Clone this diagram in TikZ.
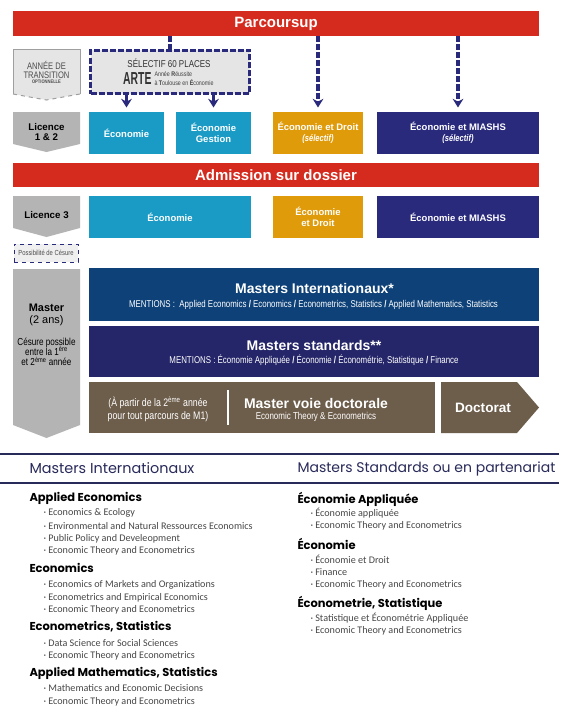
\documentclass[tikz,border=0pt]{standalone}
\usepackage{fontspec}
\usepackage{graphicx}
\setmainfont{Liberation Sans}
\newfontfamily\narrowfont[FakeStretch=0.8]{Liberation Sans}
\newfontfamily\headfont{Poppins}
\newfontfamily\listfont{Carlito}
\usetikzlibrary{arrows.meta}

\definecolor{parcred}{RGB}{213,43,30}
\definecolor{ecocyan}{RGB}{26,155,197}
\definecolor{droitorange}{RGB}{223,155,10}
\definecolor{miashsnavy}{RGB}{42,42,125}
\definecolor{intblue}{RGB}{13,65,120}
\definecolor{stdnavy}{RGB}{37,37,105}
\definecolor{docbrown}{RGB}{109,93,75}
\definecolor{stepgray}{RGB}{180,180,180}
\definecolor{palegray}{RGB}{229,229,229}
\definecolor{headnavy}{RGB}{40,42,90}

\newcommand{\supx}[1]{\smash{\textsuperscript{#1}}}

\tikzset{every picture/.style={line width=0.75pt}}
\tikzset{
  bar/.style={fill=parcred, text=white, inner sep=0pt, minimum width=526*0.75pt, minimum height=25*0.75pt, font=\fontsize{11.25}{13}\selectfont\bfseries},
  colbox/.style={inner sep=0pt, text=white, align=center, font=\fontsize{7.1}{8}\selectfont\bfseries},
  bigbox/.style={inner sep=0pt, minimum width=450*0.75pt},
  steptext/.style={inner sep=0.75pt, align=center},
  artesmall/.style={anchor=west, inner sep=0pt, text=black!75, font=\narrowfont\fontsize{5}{6}\selectfont},
  navydash/.style={draw=miashsnavy, line width=2.6pt, dash pattern=on 4.5pt off 1.5pt},
  navyarrow/.style={miashsnavy, line width=2.6pt, dash pattern=on 4.5pt off 1.5pt, -{Stealth[length=6.5pt,width=8pt]}, shorten >=3pt},
  listhead/.style={anchor=west, inner sep=0pt, text=headnavy, font=\headfont\fontsize{10.8}{12}\selectfont},
  listsub/.style={anchor=west, inner sep=0pt, font=\headfont\bfseries\fontsize{8.6}{10}\selectfont},
  listitem/.style={anchor=west, inner sep=0pt, text=black!72, font=\listfont\fontsize{7.6}{8}\selectfont}
}

\begin{document}
\begin{tikzpicture}[x=0.75pt,y=0.75pt,yscale=-1,xscale=1]
    \useasboundingbox (0,0) rectangle (579,717);
    \fill[white] (0,0) rectangle (579,717);

    % Bars
    \node[bar] (parc) at (276,23.5) {Parcoursup};
    \node[bar, minimum height=24*0.75pt] (adm) at (276,175) {Admission sur dossier};

    %Shape: Annee de transition
    \draw[gray!75, fill=palegray] (13,94) -- (13,50) -- (80,50) -- (80,94) ;
    \draw[gray!75, dashed, fill=palegray] (80,94) -- (46.5,100) -- (13,94) ;
    \node[steptext, text=black!70, font=\narrowfont\fontsize{7.1}{6.8}\selectfont] (trans) at (46.5,69.5) {ANNÉE DE\\TRANSITION};
    \node[steptext, text=black!70, font=\narrowfont\bfseries\fontsize{3.8}{4}\selectfont] (trans2) at (46.5,82) {OPTIONNELLE};

    %Shape: Licence 1 & 2
    \fill[stepgray] (13,112) -- (80,112) -- (80,144) -- (46.5,152) -- (13,144) -- cycle ;
    \node[steptext, font=\fontsize{7.3}{7.5}\selectfont\bfseries] (lic12) at (46.5,132) {Licence\\1 \& 2};

    %Shape: Licence 3
    \fill[stepgray] (13,196) -- (80,196) -- (80,228) -- (46.5,237) -- (13,228) -- cycle ;
    \node[steptext, font=\fontsize{7.3}{8}\selectfont\bfseries] (lic3) at (46.5,215) {Licence 3};

    %Shape: Master
    \fill[stepgray] (13,269) -- (80,269) -- (80,425) -- (46.5,438) -- (13,425) -- cycle ;
    \node[steptext, font=\fontsize{8.2}{9}\selectfont\bfseries] (mas) at (46.5,308) {Master};
    \node[steptext, font=\fontsize{8.2}{9}\selectfont] (masdur) at (46.5,321) {(2 ans)};
    \node[steptext, font=\narrowfont\fontsize{7.6}{7.6}\selectfont] (cesure) at (46.5,352) {Césure possible\\entre la 1\supx{ère}\\et 2\supx{ème} année};

    % Possibilite de cesure
    \node[draw=miashsnavy, dashed, fill=palegray!60, inner sep=0pt, minimum width=64*0.75pt, minimum height=18*0.75pt, text=black!70, font=\narrowfont\fontsize{5.5}{6}\selectfont] (gap) at (46,253) {Possibilité de Césure};

    % Selectif ARTE
    \node[navydash, fill=palegray, minimum width=159*0.75pt, minimum height=43*0.75pt] (sel) at (170,72) {};
    \node[inner sep=0pt, text=black!80, font=\narrowfont\fontsize{7.5}{8}\selectfont] (selt) at (169,63) {SÉLECTIF 60 PLACES};
    \node[anchor=east, inner sep=0pt, text=black!80, font=\bfseries\fontsize{7.8}{9}\selectfont] (arte) at (152,79) {\scalebox{1}[1.67]{ARTE}};
    \node[artesmall] (arteA) at (154,74.5) {Année \textbf{R}éussite};
    \node[artesmall] (arteB) at (154,83) {à \textbf{T}oulouse en \textbf{É}conomie};

    % Licence 1 & 2 boxes
    \node[colbox, fill=ecocyan, minimum width=75*0.75pt, minimum height=42*0.75pt] (ecoA) at (126.5,133) {Économie};
    \node[colbox, fill=ecocyan, minimum width=75*0.75pt, minimum height=42*0.75pt] (ecoG) at (213.5,133) {Économie\\Gestion};
    \node[colbox, fill=droitorange, minimum width=90*0.75pt, minimum height=42*0.75pt] (droitA) at (318,133) {Économie et Droit\\{\narrowfont\itshape (sélectif)}};
    \node[colbox, fill=miashsnavy, minimum width=162*0.75pt, minimum height=42*0.75pt] (miaA) at (458,133) {Économie et MIASHS\\{\narrowfont\itshape (sélectif)}};

    % Licence 3 boxes
    \node[colbox, fill=ecocyan, minimum width=162*0.75pt, minimum height=42*0.75pt] (ecoB) at (170,217) {Économie};
    \node[colbox, fill=droitorange, minimum width=90*0.75pt, minimum height=42*0.75pt] (droitB) at (318,217) {Économie\\et Droit};
    \node[colbox, fill=miashsnavy, minimum width=162*0.75pt, minimum height=42*0.75pt] (miaB) at (458,217) {Économie et MIASHS};

    % Arrows
    \draw[navydash] (parc.south -| sel.north) -- (sel.north) ;
    \draw[miashsnavy, -{Stealth[length=6.5pt,width=8pt]}, line width=2.6pt, shorten >=3pt] (sel.south -| ecoA.north) -- (ecoA.north) ;
    \draw[miashsnavy, -{Stealth[length=6.5pt,width=8pt]}, line width=2.6pt, shorten >=3pt] (sel.south -| ecoG.north) -- (ecoG.north) ;
    \draw[navyarrow] (parc.south -| droitA.north) -- (droitA.north) ;
    \draw[navyarrow] (parc.south -| miaA.north) -- (miaA.north) ;

    % Masters internationaux
    \node[bigbox, fill=intblue, minimum height=53*0.75pt] (mint) at (314,294.5) {};
    \node[inner sep=0pt, text=white, font=\fontsize{10.5}{12}\selectfont\bfseries] (mintt) at (314.5,288) {Masters Internationaux*};
    \node[inner sep=0pt, text=white, font=\narrowfont\fontsize{7.4}{8}\selectfont] (mintm) at (313.5,305) {MENTIONS :\ \ Applied Economics \textbf{/} Economics \textbf{/} Econometrics, Statistics \textbf{/} Applied Mathematics, Statistics};

    % Masters standards
    \node[bigbox, fill=stdnavy, minimum height=51*0.75pt] (mstd) at (314,351.5) {};
    \node[inner sep=0pt, text=white, font=\fontsize{10.5}{12}\selectfont\bfseries] (mstdt) at (314,345) {Masters standards**};
    \node[inner sep=0pt, text=white, font=\narrowfont\fontsize{7.4}{8}\selectfont] (mstdm) at (314,360) {MENTIONS : Économie Appliquée \textbf{/} Économie \textbf{/} Économétrie, Statistique \textbf{/} Finance};

    % Master voie doctorale
    \node[inner sep=0pt, fill=docbrown, minimum width=346*0.75pt, minimum height=51*0.75pt] (mvd) at (262,407.5) {};
    \draw[white, line width=1.2pt] (228,390) -- (228,425) ;
    \node[steptext, text=white, font=\narrowfont\fontsize{8.2}{9.8}\selectfont] (mvdl) at (158,409.5) {(À partir de la 2\supx{ème} année\\pour tout parcours de M1)};
    \node[inner sep=0pt, text=white, font=\fontsize{10.5}{12}\selectfont\bfseries] (mvdt) at (316,403) {Master voie doctorale};
    \node[inner sep=0pt, text=white, font=\narrowfont\fontsize{7.5}{8}\selectfont] (mvds) at (316,416.5) {Economic Theory \& Econometrics};

    %Shape: Doctorat
    \fill[docbrown] (441,382) -- (517,382) -- (539,407.5) -- (517,433) -- (441,433) -- cycle ;
    \node[inner sep=0pt, text=white, font=\fontsize{10.2}{12}\selectfont\bfseries] (doc) at (483,408) {Doctorat};

    % Lists
    \draw[headnavy, line width=1.1pt] (0,454) -- (559,454) ;
    \draw[headnavy, line width=1.1pt] (0,483) -- (559,483) ;
    \node[listhead] (hint) at (29,468.5) {Masters Internationaux};
    \node[listhead, font=\headfont\fontsize{10.5}{12}\selectfont] (hstd) at (297,468.5) {Masters Standards ou en partenariat};

    \node[listsub] (sAE) at (29,498) {Applied Economics};
    \node[listitem] (sAE1) at (43,513) {· Economics \& Ecology};
    \node[listitem] (sAE2) at (43,526) {· Environmental and Natural Ressources Economics};
    \node[listitem] (sAE3) at (43,538.5) {· Public Policy and Develeopment};
    \node[listitem] (sAE4) at (43,551) {· Economic Theory and Econometrics};
    \node[listsub] (sEC) at (29,568) {Economics};
    \node[listitem] (sEC1) at (43,585) {· Economics of Markets and Organizations};
    \node[listitem] (sEC2) at (43,597.5) {· Econometrics and Empirical Economics};
    \node[listitem] (sEC3) at (43,610) {· Economic Theory and Econometrics};
    \node[listsub] (sES) at (29,627) {Econometrics, Statistics};
    \node[listitem] (sES1) at (43,643) {· Data Science for Social Sciences};
    \node[listitem] (sES2) at (43,656) {· Economic Theory and Econometrics};
    \node[listsub] (sAM) at (29,673) {Applied Mathematics, Statistics};
    \node[listitem] (sAM1) at (43,688.5) {· Mathematics and Economic Decisions};
    \node[listitem] (sAM2) at (43,702) {· Economic Theory and Econometrics};

    \node[listsub] (tEA) at (297,499) {Économie Appliquée};
    \node[listitem] (tEA1) at (310,513) {· Économie appliquée};
    \node[listitem] (tEA2) at (310,526) {· Economic Theory and Econometrics};
    \node[listsub] (tEC) at (297,544) {Économie};
    \node[listitem] (tEC1) at (310,559) {· Économie et Droit};
    \node[listitem] (tEC2) at (310,572.5) {· Finance};
    \node[listitem] (tEC3) at (310,585) {· Economic Theory and Econometrics};
    \node[listsub] (tES) at (297,603) {Économetrie, Statistique};
    \node[listitem] (tES1) at (310,618) {· Statistique et Économétrie Appliquée};
    \node[listitem] (tES2) at (310,631) {· Economic Theory and Econometrics};

\end{tikzpicture}
\end{document}
